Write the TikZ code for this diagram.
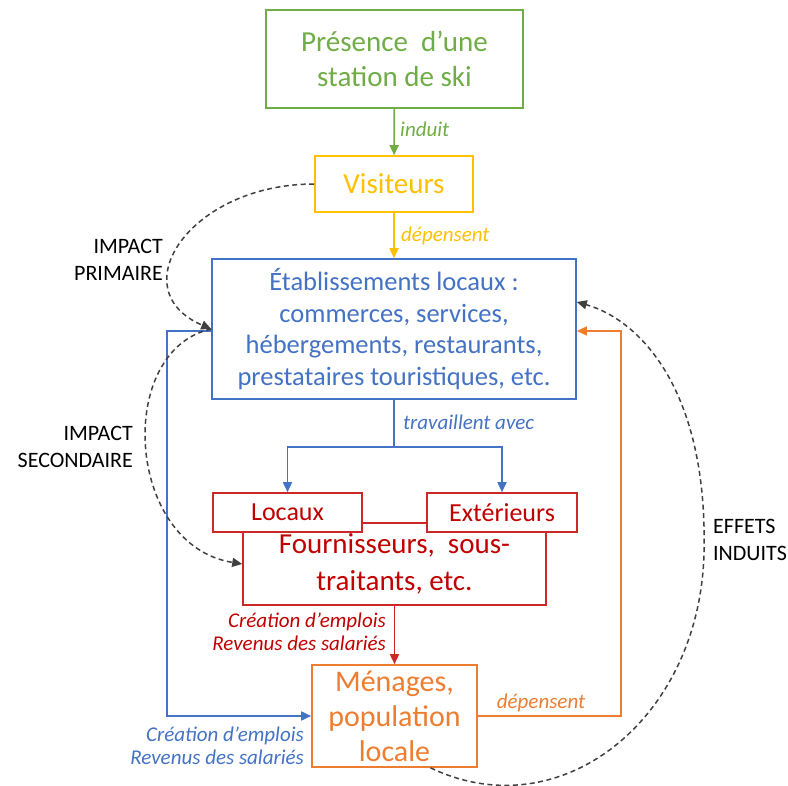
\documentclass[tikz,border=0pt]{standalone}
\usepackage{fontspec}
\setmainfont{Carlito}
\usepackage{xcolor}
\usetikzlibrary{arrows, arrows.meta}
\definecolor{vert}{RGB}{112,173,71}
\definecolor{jaune}{RGB}{255,192,0}
\definecolor{bleu}{RGB}{68,114,196}
\definecolor{rouge}{RGB}{192,0,0}
\definecolor{rougecadre}{RGB}{204,40,40}
\definecolor{orangeppt}{RGB}{237,125,49}
\definecolor{gristrait}{RGB}{64,64,64}
\tikzset{
  boite/.style={draw, line width=1.6pt, fill=white, inner sep=0pt, align=center},
  fleche/.style={line width=1.6pt, -{Triangle[length=10pt,width=9pt]}},
  pointille/.style={gristrait, line width=1.5pt, dash pattern=on 5pt off 3.5pt, -{Triangle[length=10pt,width=9pt]}},
  etiq/.style={font=\fontsize{21}{23}\selectfont\itshape, inner sep=0pt},
  impact/.style={font=\fontsize{22}{26.5}\selectfont, inner sep=0pt, text=black}
}

\begin{document}
\begin{tikzpicture}[x=1pt,y=-1pt]
\useasboundingbox (0,0) rectangle (788,786);
\node[boite, draw=vert, text=vert, minimum width=257pt, minimum height=98pt, font=\fontsize{29}{35}\selectfont] (station) at (394.5,59) {Présence\ \ d’une\\station de ski};
\node[boite, draw=jaune, text=jaune, minimum width=158pt, minimum height=56pt, font=\fontsize{29}{35}\selectfont] (visit) at (394,184) {Visiteurs};
\node[boite, draw=bleu, text=bleu, minimum width=364pt, minimum height=140pt, font=\fontsize{26.5}{31.7}\selectfont] (etab) at (394,329) {Établissements locaux :\\commerces, services,\\hébergements, restaurants,\\prestataires touristiques, etc.};
\node[boite, draw=rougecadre, text=rouge, minimum width=303pt, minimum height=82pt, font=\fontsize{29}{37}\selectfont] (four) at (394.5,564) {Fournisseurs,\ \ sous-\\traitants, etc.};
\node[boite, draw=rougecadre, text=rouge, minimum width=149pt, minimum height=39pt, font=\fontsize{26}{28}\selectfont] (locaux) at (287.5,512.5) {Locaux};
\node[boite, draw=rougecadre, text=rouge, minimum width=150pt, minimum height=39pt, font=\fontsize{26}{28}\selectfont] (ext) at (502,512.5) {Extérieurs};
\node[boite, draw=orangeppt, text=orangeppt, minimum width=165pt, minimum height=102pt, font=\fontsize{30}{35}\selectfont] (menag) at (394.5,716) {Ménages,\\population\\locale};
\coordinate (partage) at (394,447);
\coordinate (coinorange) at ([xshift=44pt,yshift=-2pt]etab.east);

\draw[fleche, vert] (station) -- (visit);
\draw[fleche, jaune] (visit) -- (etab);
\draw[line width=1.6pt, bleu] (etab) -- (partage);
\draw[fleche, bleu] (partage) -| (locaux);
\draw[fleche, bleu] (partage) -| (ext);
\draw[fleche, rougecadre] (four) -- (menag);
\draw[fleche, bleu] ([yshift=-2pt]etab.west) -- ++(-44,0) |- (menag);
\draw[fleche, orangeppt] (menag.east) -| (coinorange) -- ([yshift=-2pt]etab.east);

\draw[pointille] (visit.west) .. controls (190,184) and (120,290) .. (etab.west);
\draw[pointille] (etab.west) .. controls (115,350) and (125,545) .. (four.west);
\draw[pointille] ([xshift=36pt]menag.south) .. controls (560,830) and (700,720) .. (704,553) .. controls (708,390) and (640,320) .. ([yshift=27pt]etab.east);

\node[etiq, text=vert, anchor=west] (linduit) at (400,129) {induit};
\node[etiq, text=jaune, anchor=west] (ldepvisit) at (401,236) {dépensent};
\node[etiq, text=bleu, anchor=west] (ltravail) at (403,422) {travaillent avec};
\node[etiq, text=rouge, anchor=east, align=right] (lemploirouge) at (386,632) {Création d’emplois\\Revenus des salariés};
\node[etiq, text=bleu, anchor=east, align=right] (lemploibleu) at (304,746) {Création d’emplois\\Revenus des salariés};
\node[etiq, text=orangeppt] (ldepmenag) at (541,703) {dépensent};
\node[impact, anchor=east, align=right] (lprimaire) at (163,260) {IMPACT\\PRIMAIRE};
\node[impact, anchor=east, align=right] (lsecondaire) at (133,447) {IMPACT\\SECONDAIRE};
\node[impact, anchor=west, align=left] (linduits) at (713,540) {EFFETS\\INDUITS};
\end{tikzpicture}
\end{document}
